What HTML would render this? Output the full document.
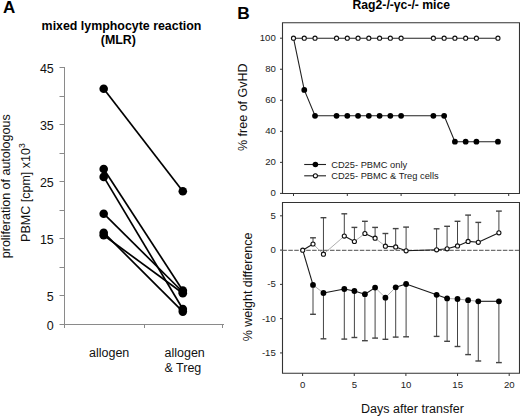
<!DOCTYPE html>
<html><head><meta charset="utf-8"><style>
html,body{margin:0;padding:0;background:#fff;}
svg{display:block;font-family:"Liberation Sans", sans-serif;}
</style></head><body>
<svg width="520" height="416" viewBox="0 0 520 416">
<rect width="520" height="416" fill="#fff"/>
<line x1="64.5" y1="67" x2="64.5" y2="325" stroke="#8a8a8a" stroke-width="1"/>
<line x1="59.5" y1="324.5" x2="64.5" y2="324.5" stroke="#8a8a8a" stroke-width="1"/>
<line x1="59.5" y1="295.5" x2="64.5" y2="295.5" stroke="#8a8a8a" stroke-width="1"/>
<line x1="59.5" y1="267.5" x2="64.5" y2="267.5" stroke="#8a8a8a" stroke-width="1"/>
<line x1="59.5" y1="238.5" x2="64.5" y2="238.5" stroke="#8a8a8a" stroke-width="1"/>
<line x1="59.5" y1="210.5" x2="64.5" y2="210.5" stroke="#8a8a8a" stroke-width="1"/>
<line x1="59.5" y1="181.5" x2="64.5" y2="181.5" stroke="#8a8a8a" stroke-width="1"/>
<line x1="59.5" y1="153.5" x2="64.5" y2="153.5" stroke="#8a8a8a" stroke-width="1"/>
<line x1="59.5" y1="124.5" x2="64.5" y2="124.5" stroke="#8a8a8a" stroke-width="1"/>
<line x1="59.5" y1="96.5" x2="64.5" y2="96.5" stroke="#8a8a8a" stroke-width="1"/>
<line x1="59.5" y1="67.5" x2="64.5" y2="67.5" stroke="#8a8a8a" stroke-width="1"/>
<line x1="64.5" y1="324.5" x2="224" y2="324.5" stroke="#8a8a8a" stroke-width="1"/>
<line x1="64.5" y1="324.5" x2="64.5" y2="328" stroke="#8a8a8a" stroke-width="1"/>
<line x1="144.5" y1="324.5" x2="144.5" y2="328" stroke="#8a8a8a" stroke-width="1"/>
<line x1="222.5" y1="324.5" x2="222.5" y2="328" stroke="#8a8a8a" stroke-width="1"/>
<text x="53.8" y="72.60" text-anchor="end" font-size="12.5" fill="#111">45</text>
<text x="53.8" y="129.60" text-anchor="end" font-size="12.5" fill="#111">35</text>
<text x="53.8" y="186.60" text-anchor="end" font-size="12.5" fill="#111">25</text>
<text x="53.8" y="243.60" text-anchor="end" font-size="12.5" fill="#111">15</text>
<text x="53.8" y="300.60" text-anchor="end" font-size="12.5" fill="#111">5</text>
<text x="53.8" y="329.60" text-anchor="end" font-size="12.5" fill="#111">0</text>
<line x1="103.7" y1="88.7" x2="182.8" y2="191.3" stroke="#000" stroke-width="1.7"/>
<line x1="103.7" y1="169.0" x2="182.8" y2="290.5" stroke="#000" stroke-width="1.7"/>
<line x1="103.7" y1="176.9" x2="182.8" y2="309.0" stroke="#000" stroke-width="1.7"/>
<line x1="103.7" y1="213.7" x2="182.8" y2="292.0" stroke="#000" stroke-width="1.7"/>
<line x1="103.7" y1="232.7" x2="182.8" y2="311.6" stroke="#000" stroke-width="1.7"/>
<line x1="103.7" y1="235.3" x2="182.8" y2="293.3" stroke="#000" stroke-width="1.7"/>
<circle cx="103.7" cy="88.7" r="4.3" fill="#000"/>
<circle cx="182.8" cy="191.3" r="4.3" fill="#000"/>
<circle cx="103.7" cy="169.0" r="4.3" fill="#000"/>
<circle cx="182.8" cy="290.5" r="4.3" fill="#000"/>
<circle cx="103.7" cy="176.9" r="4.3" fill="#000"/>
<circle cx="182.8" cy="309.0" r="4.3" fill="#000"/>
<circle cx="103.7" cy="213.7" r="4.3" fill="#000"/>
<circle cx="182.8" cy="292.0" r="4.3" fill="#000"/>
<circle cx="103.7" cy="232.7" r="4.3" fill="#000"/>
<circle cx="182.8" cy="311.6" r="4.3" fill="#000"/>
<circle cx="103.7" cy="235.3" r="4.3" fill="#000"/>
<circle cx="182.8" cy="293.3" r="4.3" fill="#000"/>
<text x="3" y="13.4" font-size="17" font-weight="bold" fill="#000">A</text>
<text x="121.5" y="30.0" text-anchor="middle" font-size="12.4" font-weight="bold" fill="#000">mixed lymphocyte reaction</text>
<text x="118.3" y="44.3" text-anchor="middle" font-size="12.4" font-weight="bold" fill="#000">(MLR)</text>
<text transform="translate(10.1,186.3) rotate(-90)" text-anchor="middle" font-size="12.5" fill="#111">proliferation of autologous</text>
<text transform="translate(29.6,192.6) rotate(-90)" text-anchor="middle" font-size="12.5" fill="#111">PBMC [cpm] x10<tspan font-size="8.6" dy="-4.2">3</tspan></text>
<text x="89" y="356.7" font-size="12.5" fill="#111">allogen</text>
<text x="164.5" y="356.7" font-size="12.5" fill="#111">allogen</text>
<text x="164.5" y="371.5" font-size="12.5" fill="#111">&amp; Treg</text>
<text x="237.2" y="18.8" font-size="17.3" font-weight="bold" fill="#000">B</text>
<text x="401.3" y="8.8" text-anchor="middle" font-size="12.2" font-weight="bold" fill="#000">Rag2-/-γc-/- mice</text>
<path d="M282.5 193.5 V22.7 H519.5 V193.5 Z" fill="none" stroke="#333" stroke-width="1.1"/>
<line x1="280" y1="38.20" x2="282.5" y2="38.20" stroke="#333" stroke-width="1"/>
<text x="275.8" y="41.20" text-anchor="end" font-size="9.6" fill="#222">100</text>
<line x1="280" y1="69.24" x2="282.5" y2="69.24" stroke="#333" stroke-width="1"/>
<text x="275.8" y="72.24" text-anchor="end" font-size="9.6" fill="#222">80</text>
<line x1="280" y1="100.28" x2="282.5" y2="100.28" stroke="#333" stroke-width="1"/>
<text x="275.8" y="103.28" text-anchor="end" font-size="9.6" fill="#222">60</text>
<line x1="280" y1="131.32" x2="282.5" y2="131.32" stroke="#333" stroke-width="1"/>
<text x="275.8" y="134.32" text-anchor="end" font-size="9.6" fill="#222">40</text>
<line x1="280" y1="162.36" x2="282.5" y2="162.36" stroke="#333" stroke-width="1"/>
<text x="275.8" y="165.36" text-anchor="end" font-size="9.6" fill="#222">20</text>
<line x1="280" y1="193.40" x2="282.5" y2="193.40" stroke="#333" stroke-width="1"/>
<text x="275.8" y="196.40" text-anchor="end" font-size="9.6" fill="#222">0</text>
<line x1="293.50" y1="193.5" x2="293.50" y2="196" stroke="#333" stroke-width="1"/>
<line x1="347.30" y1="193.5" x2="347.30" y2="196" stroke="#333" stroke-width="1"/>
<line x1="401.10" y1="193.5" x2="401.10" y2="196" stroke="#333" stroke-width="1"/>
<line x1="454.90" y1="193.5" x2="454.90" y2="196" stroke="#333" stroke-width="1"/>
<line x1="508.70" y1="193.5" x2="508.70" y2="196" stroke="#333" stroke-width="1"/>
<polyline points="293.50,38.20 304.26,89.88 315.02,115.80 336.54,115.80 347.30,115.80 358.06,115.80 368.82,115.80 379.58,115.80 390.34,115.80 401.10,115.80 433.38,115.80 444.14,115.80 454.90,141.72 465.66,141.72 476.42,141.72 497.94,141.72" fill="none" stroke="#222" stroke-width="1.1"/>
<polyline points="293.50,38.20 304.26,38.20 315.02,38.20 336.54,38.20 347.30,38.20 358.06,38.20 368.82,38.20 379.58,38.20 390.34,38.20 401.10,38.20 433.38,38.20 444.14,38.20 454.90,38.20 465.66,38.20 476.42,38.20 497.94,38.20" fill="none" stroke="#222" stroke-width="1.1"/>
<circle cx="304.26" cy="89.88" r="2.9" fill="#000"/>
<circle cx="315.02" cy="115.80" r="2.9" fill="#000"/>
<circle cx="336.54" cy="115.80" r="2.9" fill="#000"/>
<circle cx="347.30" cy="115.80" r="2.9" fill="#000"/>
<circle cx="358.06" cy="115.80" r="2.9" fill="#000"/>
<circle cx="368.82" cy="115.80" r="2.9" fill="#000"/>
<circle cx="379.58" cy="115.80" r="2.9" fill="#000"/>
<circle cx="390.34" cy="115.80" r="2.9" fill="#000"/>
<circle cx="401.10" cy="115.80" r="2.9" fill="#000"/>
<circle cx="433.38" cy="115.80" r="2.9" fill="#000"/>
<circle cx="444.14" cy="115.80" r="2.9" fill="#000"/>
<circle cx="454.90" cy="141.72" r="2.9" fill="#000"/>
<circle cx="465.66" cy="141.72" r="2.9" fill="#000"/>
<circle cx="476.42" cy="141.72" r="2.9" fill="#000"/>
<circle cx="497.94" cy="141.72" r="2.9" fill="#000"/>
<circle cx="293.50" cy="38.20" r="2.05" fill="#fff" stroke="#111" stroke-width="1.1"/>
<circle cx="304.26" cy="38.20" r="2.05" fill="#fff" stroke="#111" stroke-width="1.1"/>
<circle cx="315.02" cy="38.20" r="2.05" fill="#fff" stroke="#111" stroke-width="1.1"/>
<circle cx="336.54" cy="38.20" r="2.05" fill="#fff" stroke="#111" stroke-width="1.1"/>
<circle cx="347.30" cy="38.20" r="2.05" fill="#fff" stroke="#111" stroke-width="1.1"/>
<circle cx="358.06" cy="38.20" r="2.05" fill="#fff" stroke="#111" stroke-width="1.1"/>
<circle cx="368.82" cy="38.20" r="2.05" fill="#fff" stroke="#111" stroke-width="1.1"/>
<circle cx="379.58" cy="38.20" r="2.05" fill="#fff" stroke="#111" stroke-width="1.1"/>
<circle cx="390.34" cy="38.20" r="2.05" fill="#fff" stroke="#111" stroke-width="1.1"/>
<circle cx="401.10" cy="38.20" r="2.05" fill="#fff" stroke="#111" stroke-width="1.1"/>
<circle cx="433.38" cy="38.20" r="2.05" fill="#fff" stroke="#111" stroke-width="1.1"/>
<circle cx="444.14" cy="38.20" r="2.05" fill="#fff" stroke="#111" stroke-width="1.1"/>
<circle cx="454.90" cy="38.20" r="2.05" fill="#fff" stroke="#111" stroke-width="1.1"/>
<circle cx="465.66" cy="38.20" r="2.05" fill="#fff" stroke="#111" stroke-width="1.1"/>
<circle cx="476.42" cy="38.20" r="2.05" fill="#fff" stroke="#111" stroke-width="1.1"/>
<circle cx="497.94" cy="38.20" r="2.05" fill="#fff" stroke="#111" stroke-width="1.1"/>
<line x1="304.2" y1="164.5" x2="326" y2="164.5" stroke="#222" stroke-width="1.1"/>
<circle cx="315.4" cy="164.5" r="2.8" fill="#000"/>
<line x1="304.2" y1="175.8" x2="326" y2="175.8" stroke="#222" stroke-width="1.1"/>
<circle cx="315.4" cy="175.8" r="2.05" fill="#fff" stroke="#111" stroke-width="1.1"/>
<text x="331.2" y="168.0" font-size="9.3" fill="#1a1a1a">CD25- PBMC only</text>
<text x="331.2" y="179.3" font-size="9.3" fill="#1a1a1a">CD25- PBMC &amp; Treg cells</text>
<text transform="translate(247.3,107.2) rotate(-90)" text-anchor="middle" font-size="12.5" fill="#111">% free of GvHD</text>
<path d="M282.5 373.3 V202.5 H519.5 V373.3 Z" fill="none" stroke="#333" stroke-width="1.1"/>
<line x1="282.34" y1="250.4" x2="519" y2="250.4" stroke="#707070" stroke-width="1.1" stroke-dasharray="4.5 1.46"/>
<line x1="280" y1="215.82" x2="282.5" y2="215.82" stroke="#333" stroke-width="1"/>
<text x="275.8" y="218.82" text-anchor="end" font-size="9.6" fill="#222">5</text>
<line x1="280" y1="250.10" x2="282.5" y2="250.10" stroke="#333" stroke-width="1"/>
<text x="275.8" y="253.10" text-anchor="end" font-size="9.6" fill="#222">0</text>
<line x1="280" y1="284.38" x2="282.5" y2="284.38" stroke="#333" stroke-width="1"/>
<text x="275.8" y="287.38" text-anchor="end" font-size="9.6" fill="#222">-5</text>
<line x1="280" y1="318.65" x2="282.5" y2="318.65" stroke="#333" stroke-width="1"/>
<text x="275.8" y="321.65" text-anchor="end" font-size="9.6" fill="#222">-10</text>
<line x1="280" y1="352.93" x2="282.5" y2="352.93" stroke="#333" stroke-width="1"/>
<text x="275.8" y="355.93" text-anchor="end" font-size="9.6" fill="#222">-15</text>
<line x1="302.60" y1="373.3" x2="302.60" y2="376" stroke="#333" stroke-width="1"/>
<text x="302.70" y="388.4" text-anchor="middle" font-size="9.6" fill="#222">0</text>
<line x1="354.25" y1="373.3" x2="354.25" y2="376" stroke="#333" stroke-width="1"/>
<text x="354.35" y="388.4" text-anchor="middle" font-size="9.6" fill="#222">5</text>
<line x1="405.90" y1="373.3" x2="405.90" y2="376" stroke="#333" stroke-width="1"/>
<text x="406.00" y="388.4" text-anchor="middle" font-size="9.6" fill="#222">10</text>
<line x1="457.55" y1="373.3" x2="457.55" y2="376" stroke="#333" stroke-width="1"/>
<text x="457.65" y="388.4" text-anchor="middle" font-size="9.6" fill="#222">15</text>
<line x1="509.20" y1="373.3" x2="509.20" y2="376" stroke="#333" stroke-width="1"/>
<text x="509.30" y="388.4" text-anchor="middle" font-size="9.6" fill="#222">20</text>
<text transform="translate(251.6,286.9) rotate(-90)" text-anchor="middle" font-size="12.5" fill="#111">% weight difference</text>
<text x="361" y="413.2" font-size="12.5" fill="#111">Days after transfer</text>
<line x1="313.00" y1="244.00" x2="313.00" y2="237.80" stroke="#444" stroke-width="1"/>
<line x1="310.10" y1="237.80" x2="315.90" y2="237.80" stroke="#444" stroke-width="1.4"/>
<line x1="313.00" y1="284.90" x2="313.00" y2="314.30" stroke="#444" stroke-width="1"/>
<line x1="310.10" y1="314.30" x2="315.90" y2="314.30" stroke="#444" stroke-width="1.4"/>
<line x1="323.45" y1="254.20" x2="323.45" y2="217.70" stroke="#444" stroke-width="1"/>
<line x1="320.55" y1="217.70" x2="326.35" y2="217.70" stroke="#444" stroke-width="1.4"/>
<line x1="323.45" y1="293.00" x2="323.45" y2="338.80" stroke="#444" stroke-width="1"/>
<line x1="320.55" y1="338.80" x2="326.35" y2="338.80" stroke="#444" stroke-width="1.4"/>
<line x1="344.30" y1="236.10" x2="344.30" y2="213.80" stroke="#444" stroke-width="1"/>
<line x1="341.40" y1="213.80" x2="347.20" y2="213.80" stroke="#444" stroke-width="1.4"/>
<line x1="344.30" y1="289.00" x2="344.30" y2="339.10" stroke="#444" stroke-width="1"/>
<line x1="341.40" y1="339.10" x2="347.20" y2="339.10" stroke="#444" stroke-width="1.4"/>
<line x1="354.40" y1="241.50" x2="354.40" y2="227.40" stroke="#444" stroke-width="1"/>
<line x1="351.50" y1="227.40" x2="357.30" y2="227.40" stroke="#444" stroke-width="1.4"/>
<line x1="354.40" y1="291.00" x2="354.40" y2="337.50" stroke="#444" stroke-width="1"/>
<line x1="351.50" y1="337.50" x2="357.30" y2="337.50" stroke="#444" stroke-width="1.4"/>
<line x1="364.90" y1="233.50" x2="364.90" y2="221.30" stroke="#444" stroke-width="1"/>
<line x1="362.00" y1="221.30" x2="367.80" y2="221.30" stroke="#444" stroke-width="1.4"/>
<line x1="364.90" y1="294.20" x2="364.90" y2="340.70" stroke="#444" stroke-width="1"/>
<line x1="362.00" y1="340.70" x2="367.80" y2="340.70" stroke="#444" stroke-width="1.4"/>
<line x1="375.10" y1="238.20" x2="375.10" y2="227.40" stroke="#444" stroke-width="1"/>
<line x1="372.20" y1="227.40" x2="378.00" y2="227.40" stroke="#444" stroke-width="1.4"/>
<line x1="375.10" y1="287.60" x2="375.10" y2="338.10" stroke="#444" stroke-width="1"/>
<line x1="372.20" y1="338.10" x2="378.00" y2="338.10" stroke="#444" stroke-width="1.4"/>
<line x1="385.40" y1="246.20" x2="385.40" y2="233.50" stroke="#444" stroke-width="1"/>
<line x1="382.50" y1="233.50" x2="388.30" y2="233.50" stroke="#444" stroke-width="1.4"/>
<line x1="385.40" y1="297.70" x2="385.40" y2="339.30" stroke="#444" stroke-width="1"/>
<line x1="382.50" y1="339.30" x2="388.30" y2="339.30" stroke="#444" stroke-width="1.4"/>
<line x1="395.70" y1="246.90" x2="395.70" y2="228.60" stroke="#444" stroke-width="1"/>
<line x1="392.80" y1="228.60" x2="398.60" y2="228.60" stroke="#444" stroke-width="1.4"/>
<line x1="395.70" y1="287.30" x2="395.70" y2="337.10" stroke="#444" stroke-width="1"/>
<line x1="392.80" y1="337.10" x2="398.60" y2="337.10" stroke="#444" stroke-width="1.4"/>
<line x1="406.10" y1="250.80" x2="406.10" y2="227.10" stroke="#444" stroke-width="1"/>
<line x1="403.20" y1="227.10" x2="409.00" y2="227.10" stroke="#444" stroke-width="1.4"/>
<line x1="406.10" y1="284.00" x2="406.10" y2="336.80" stroke="#444" stroke-width="1"/>
<line x1="403.20" y1="336.80" x2="409.00" y2="336.80" stroke="#444" stroke-width="1.4"/>
<line x1="436.60" y1="249.80" x2="436.60" y2="228.80" stroke="#444" stroke-width="1"/>
<line x1="433.70" y1="228.80" x2="439.50" y2="228.80" stroke="#444" stroke-width="1.4"/>
<line x1="436.60" y1="294.80" x2="436.60" y2="336.40" stroke="#444" stroke-width="1"/>
<line x1="433.70" y1="336.40" x2="439.50" y2="336.40" stroke="#444" stroke-width="1.4"/>
<line x1="447.10" y1="248.80" x2="447.10" y2="226.30" stroke="#444" stroke-width="1"/>
<line x1="444.20" y1="226.30" x2="450.00" y2="226.30" stroke="#444" stroke-width="1.4"/>
<line x1="447.10" y1="298.40" x2="447.10" y2="341.30" stroke="#444" stroke-width="1"/>
<line x1="444.20" y1="341.30" x2="450.00" y2="341.30" stroke="#444" stroke-width="1.4"/>
<line x1="457.50" y1="245.90" x2="457.50" y2="221.30" stroke="#444" stroke-width="1"/>
<line x1="454.60" y1="221.30" x2="460.40" y2="221.30" stroke="#444" stroke-width="1.4"/>
<line x1="457.50" y1="299.00" x2="457.50" y2="346.50" stroke="#444" stroke-width="1"/>
<line x1="454.60" y1="346.50" x2="460.40" y2="346.50" stroke="#444" stroke-width="1.4"/>
<line x1="468.10" y1="241.40" x2="468.10" y2="215.10" stroke="#444" stroke-width="1"/>
<line x1="465.20" y1="215.10" x2="471.00" y2="215.10" stroke="#444" stroke-width="1.4"/>
<line x1="468.10" y1="300.20" x2="468.10" y2="354.60" stroke="#444" stroke-width="1"/>
<line x1="465.20" y1="354.60" x2="471.00" y2="354.60" stroke="#444" stroke-width="1.4"/>
<line x1="478.30" y1="242.30" x2="478.30" y2="222.40" stroke="#444" stroke-width="1"/>
<line x1="475.40" y1="222.40" x2="481.20" y2="222.40" stroke="#444" stroke-width="1.4"/>
<line x1="478.30" y1="301.30" x2="478.30" y2="361.00" stroke="#444" stroke-width="1"/>
<line x1="475.40" y1="361.00" x2="481.20" y2="361.00" stroke="#444" stroke-width="1.4"/>
<line x1="498.90" y1="232.80" x2="498.90" y2="211.10" stroke="#444" stroke-width="1"/>
<line x1="496.00" y1="211.10" x2="501.80" y2="211.10" stroke="#444" stroke-width="1.4"/>
<line x1="498.90" y1="301.30" x2="498.90" y2="362.60" stroke="#444" stroke-width="1"/>
<line x1="496.00" y1="362.60" x2="501.80" y2="362.60" stroke="#444" stroke-width="1.4"/>
<line x1="302.70" y1="250.20" x2="313.00" y2="284.90" stroke="#1a1a1a" stroke-width="1.1"/>
<line x1="313.00" y1="284.90" x2="323.45" y2="293.00" stroke="#999" stroke-width="0.8"/>
<line x1="323.45" y1="293.00" x2="344.30" y2="289.00" stroke="#1a1a1a" stroke-width="1.1"/>
<line x1="344.30" y1="289.00" x2="354.40" y2="291.00" stroke="#1a1a1a" stroke-width="1.1"/>
<line x1="354.40" y1="291.00" x2="364.90" y2="294.20" stroke="#1a1a1a" stroke-width="1.1"/>
<line x1="364.90" y1="294.20" x2="375.10" y2="287.60" stroke="#1a1a1a" stroke-width="1.1"/>
<line x1="375.10" y1="287.60" x2="385.40" y2="297.70" stroke="#999" stroke-width="0.8"/>
<line x1="385.40" y1="297.70" x2="395.70" y2="287.30" stroke="#999" stroke-width="0.8"/>
<line x1="395.70" y1="287.30" x2="406.10" y2="284.00" stroke="#1a1a1a" stroke-width="1.1"/>
<line x1="406.10" y1="284.00" x2="436.60" y2="294.80" stroke="#1a1a1a" stroke-width="1.1"/>
<line x1="436.60" y1="294.80" x2="447.10" y2="298.40" stroke="#1a1a1a" stroke-width="1.1"/>
<line x1="447.10" y1="298.40" x2="457.50" y2="299.00" stroke="#999" stroke-width="0.8"/>
<line x1="457.50" y1="299.00" x2="468.10" y2="300.20" stroke="#999" stroke-width="0.8"/>
<line x1="468.10" y1="300.20" x2="478.30" y2="301.30" stroke="#999" stroke-width="0.8"/>
<line x1="478.30" y1="301.30" x2="498.90" y2="301.30" stroke="#1a1a1a" stroke-width="1.1"/>
<line x1="302.70" y1="250.20" x2="313.00" y2="244.00" stroke="#1a1a1a" stroke-width="1.1"/>
<line x1="313.00" y1="244.00" x2="323.45" y2="254.20" stroke="#999" stroke-width="0.8"/>
<line x1="323.45" y1="254.20" x2="344.30" y2="236.10" stroke="#999" stroke-width="0.8"/>
<line x1="344.30" y1="236.10" x2="354.40" y2="241.50" stroke="#1a1a1a" stroke-width="1.1"/>
<line x1="354.40" y1="241.50" x2="364.90" y2="233.50" stroke="#999" stroke-width="0.8"/>
<line x1="364.90" y1="233.50" x2="375.10" y2="238.20" stroke="#1a1a1a" stroke-width="1.1"/>
<line x1="375.10" y1="238.20" x2="385.40" y2="246.20" stroke="#999" stroke-width="0.8"/>
<line x1="385.40" y1="246.20" x2="395.70" y2="246.90" stroke="#1a1a1a" stroke-width="1.1"/>
<line x1="395.70" y1="246.90" x2="406.10" y2="250.80" stroke="#1a1a1a" stroke-width="1.1"/>
<line x1="406.10" y1="250.80" x2="436.60" y2="249.80" stroke="#1a1a1a" stroke-width="1.1"/>
<line x1="436.60" y1="249.80" x2="447.10" y2="248.80" stroke="#1a1a1a" stroke-width="1.1"/>
<line x1="447.10" y1="248.80" x2="457.50" y2="245.90" stroke="#1a1a1a" stroke-width="1.1"/>
<line x1="457.50" y1="245.90" x2="468.10" y2="241.40" stroke="#1a1a1a" stroke-width="1.1"/>
<line x1="468.10" y1="241.40" x2="478.30" y2="242.30" stroke="#1a1a1a" stroke-width="1.1"/>
<line x1="478.30" y1="242.30" x2="498.90" y2="232.80" stroke="#1a1a1a" stroke-width="1.1"/>
<circle cx="313.00" cy="284.90" r="2.9" fill="#000"/>
<circle cx="323.45" cy="293.00" r="2.9" fill="#000"/>
<circle cx="344.30" cy="289.00" r="2.9" fill="#000"/>
<circle cx="354.40" cy="291.00" r="2.9" fill="#000"/>
<circle cx="364.90" cy="294.20" r="2.9" fill="#000"/>
<circle cx="375.10" cy="287.60" r="2.9" fill="#000"/>
<circle cx="385.40" cy="297.70" r="2.9" fill="#000"/>
<circle cx="395.70" cy="287.30" r="2.9" fill="#000"/>
<circle cx="406.10" cy="284.00" r="2.9" fill="#000"/>
<circle cx="436.60" cy="294.80" r="2.9" fill="#000"/>
<circle cx="447.10" cy="298.40" r="2.9" fill="#000"/>
<circle cx="457.50" cy="299.00" r="2.9" fill="#000"/>
<circle cx="468.10" cy="300.20" r="2.9" fill="#000"/>
<circle cx="478.30" cy="301.30" r="2.9" fill="#000"/>
<circle cx="498.90" cy="301.30" r="2.9" fill="#000"/>
<circle cx="302.70" cy="250.20" r="2.05" fill="#fff" stroke="#111" stroke-width="1.1"/>
<circle cx="313.00" cy="244.00" r="2.05" fill="#fff" stroke="#111" stroke-width="1.1"/>
<circle cx="323.45" cy="254.20" r="2.05" fill="#fff" stroke="#111" stroke-width="1.1"/>
<circle cx="344.30" cy="236.10" r="2.05" fill="#fff" stroke="#111" stroke-width="1.1"/>
<circle cx="354.40" cy="241.50" r="2.05" fill="#fff" stroke="#111" stroke-width="1.1"/>
<circle cx="364.90" cy="233.50" r="2.05" fill="#fff" stroke="#111" stroke-width="1.1"/>
<circle cx="375.10" cy="238.20" r="2.05" fill="#fff" stroke="#111" stroke-width="1.1"/>
<circle cx="385.40" cy="246.20" r="2.05" fill="#fff" stroke="#111" stroke-width="1.1"/>
<circle cx="395.70" cy="246.90" r="2.05" fill="#fff" stroke="#111" stroke-width="1.1"/>
<circle cx="406.10" cy="250.80" r="2.05" fill="#fff" stroke="#111" stroke-width="1.1"/>
<circle cx="436.60" cy="249.80" r="2.05" fill="#fff" stroke="#111" stroke-width="1.1"/>
<circle cx="447.10" cy="248.80" r="2.05" fill="#fff" stroke="#111" stroke-width="1.1"/>
<circle cx="457.50" cy="245.90" r="2.05" fill="#fff" stroke="#111" stroke-width="1.1"/>
<circle cx="468.10" cy="241.40" r="2.05" fill="#fff" stroke="#111" stroke-width="1.1"/>
<circle cx="478.30" cy="242.30" r="2.05" fill="#fff" stroke="#111" stroke-width="1.1"/>
<circle cx="498.90" cy="232.80" r="2.05" fill="#fff" stroke="#111" stroke-width="1.1"/>
</svg>
</body></html>
